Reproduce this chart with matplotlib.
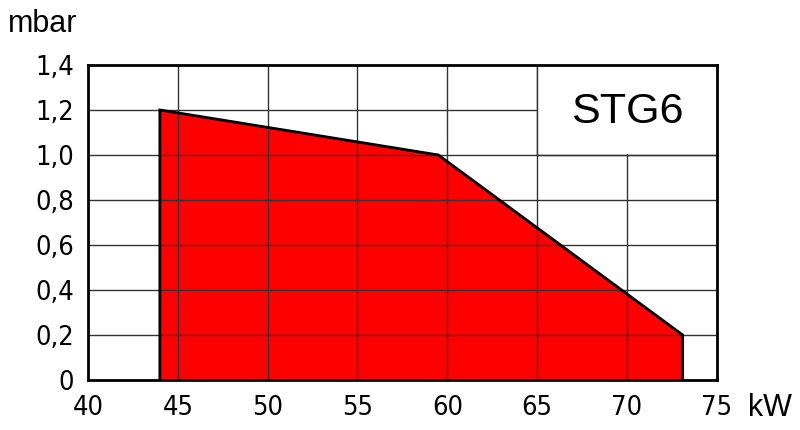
import matplotlib.pyplot as plt
from matplotlib.patches import Rectangle

# working range of the burner (kW vs mbar)
power_kw = [44.0, 44.0, 59.5, 73.1, 73.1]
pressure_mbar = [0.0, 1.2, 1.0, 0.2, 0.0]

x_ticks = [40, 45, 50, 55, 60, 65, 70, 75]
y_ticks = [0, 0.2, 0.4, 0.6, 0.8, 1.0, 1.2, 1.4]
y_tick_labels = ['0', '0,2', '0,4', '0,6', '0,8', '1,0', '1,2', '1,4']
model = 'STG6'

label_font = ['Liberation Sans', 'DejaVu Sans']

fig = plt.figure(figsize=(8, 4.3), dpi=100)
ax = fig.add_axes([0.11, 0.1163, 0.786, 0.7326])

ax.set_xlim(40, 75)
ax.set_ylim(0, 1.4)

# filled working field
ax.fill(power_kw, pressure_mbar, facecolor='#ff0000', edgecolor='none', zorder=1)

# grid drawn over the fill
for x in x_ticks[1:-1]:
    ax.axvline(x, color='#333333', lw=1, zorder=2)
for y in y_ticks[1:-1]:
    ax.axhline(y, color='#333333', lw=1, zorder=2)

# white box for the model name (keeps its left and lower borders)
ax.add_patch(Rectangle((65.06, 1.003), 9.94, 0.397, facecolor='white',
                       edgecolor='none', zorder=3))
ax.plot([65, 65], [1.0, 1.4], color='#333333', lw=1, zorder=4)
ax.plot([65, 75], [1.0, 1.0], color='#333333', lw=1, zorder=4)
ax.text(70, 1.19, model, ha='center', va='center', fontsize=31,
        family=label_font, zorder=5)

ax.plot(power_kw, pressure_mbar, color='black', lw=2, zorder=6,
        solid_joinstyle='miter')

for s in ax.spines.values():
    s.set_linewidth(2)
    s.set_zorder(7)

ax.set_xticks(x_ticks)
ax.set_xticklabels([str(v) for v in x_ticks], fontsize=19.5, fontstretch='condensed')
ax.set_yticks(y_ticks)
ax.set_yticklabels(y_tick_labels, fontsize=19.5, fontstretch='condensed')
ax.tick_params(axis='y', length=0, pad=10)
ax.tick_params(axis='x', length=0, pad=11)

fig.text(0.01, 0.945, 'mbar', fontsize=22, family=label_font, va='center', ha='left')
fig.text(0.935, 0.052, 'kW', fontsize=22, family=label_font, va='center', ha='left')

fig.savefig('out.png', dpi=100)
